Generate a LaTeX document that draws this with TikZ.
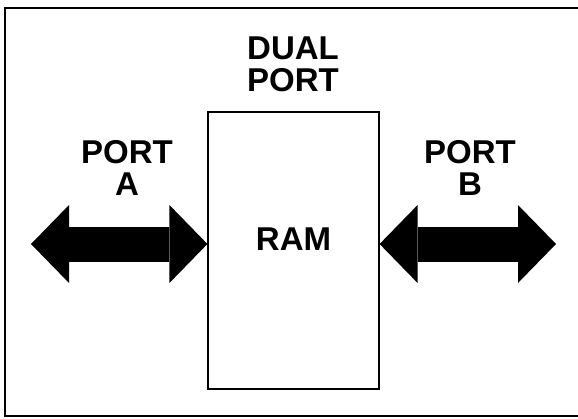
\documentclass[tikz,border=0pt]{standalone}
\usepackage{fontspec}
\setmainfont{Liberation Sans}
\usetikzlibrary{arrows.meta}

\begin{document}
\begin{tikzpicture}[x=1pt,y=-1pt,
  every node/.style={font=\fontsize{33}{32}\selectfont\bfseries,align=center,inner sep=0pt},
  port/.style={line width=35pt,{Triangle[length=38pt,width=78pt,line width=0pt]}-{Triangle[length=38pt,width=78pt,line width=0pt]}}]
\useasboundingbox (0,0) rectangle (578,418);
\draw[line width=2pt] (5,8) rectangle (590,416);
\node[draw,line width=1.2pt,minimum width=171pt,minimum height=277pt] (RAM) at (293.5,250.5) {};
\node (ram) at (293.5,239.5) {RAM};
\node (dual) at (293,64) {DUAL\\PORT};
\foreach \p/\x/\e in {A/127/31,B/470/556}{
	\node (port \p) at (\x,168) {PORT\\\p};
	\coordinate (end \p) at (\e,244);
}
\draw[port] (end A) -- (end A -| RAM.west);
\draw[port] (RAM.east |- end B) -- (end B);
\end{tikzpicture}
\end{document}
